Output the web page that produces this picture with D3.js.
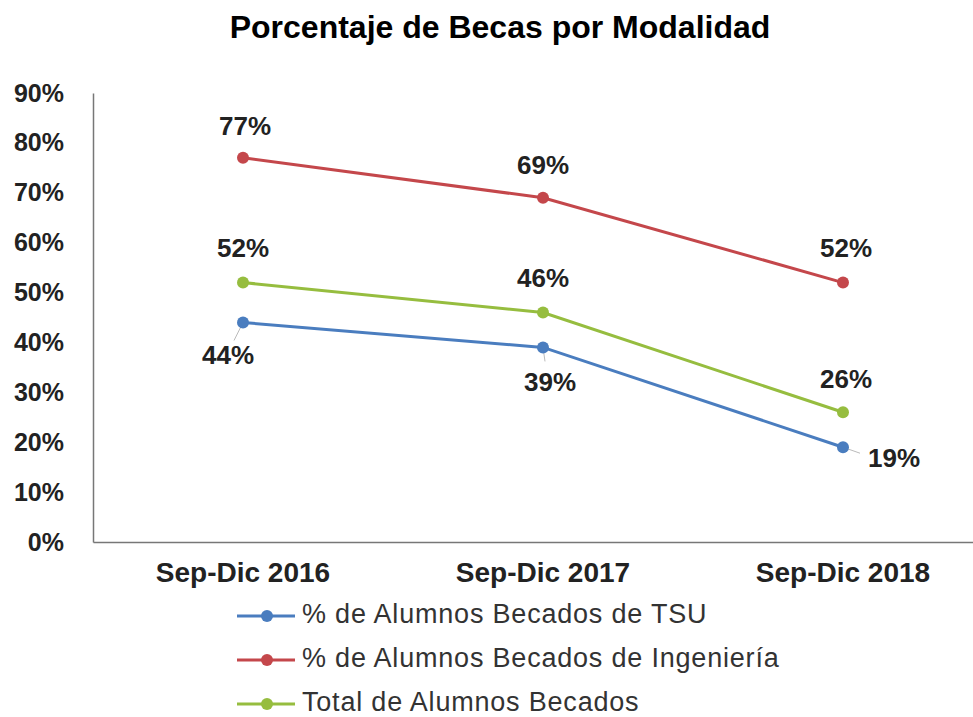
<!DOCTYPE html>
<html>
<head>
<meta charset="utf-8">
<script src="https://cdn.jsdelivr.net/npm/d3@7"></script>
<style>
  body { margin: 0; background: #fff; }
  svg { display: block; }
</style>
</head>
<body>
<div id="chart"></div>
<script>
// data
var categories = ['Sep-Dic 2016', 'Sep-Dic 2017', 'Sep-Dic 2018'];
var tsuValues = [44, 39, 19];
var ingValues = [77, 69, 52];
var totalValues = [52, 46, 26];
var seriesNames = ['% de Alumnos Becados de TSU', '% de Alumnos Becados de Ingeniería', 'Total de Alumnos Becados'];
var yTicks = [0, 10, 20, 30, 40, 50, 60, 70, 80, 90];

var width = 973, height = 717;
var colors = ['#4a7dbf', '#c4474b', '#96bd3f'];
var font = 'Liberation Sans, Arial, sans-serif';
// label offsets (dx, dy) per series, per point
var labelOffsets = [
    [[-15, 35], [7, 37], [51, 13]],
    [[2, -30], [0, -31], [3, -32]],
    [[0, -32], [0, -32], [3, -31]]
];
// leader line ends (dx, dy) for labels that sit away from the point
var leaders = [[0, 0, -9, 18], [0, 1, 2, 14], [0, 2, 17, 6]];

var svg = d3.select('#chart').append('svg')
    .attr('xmlns', 'http://www.w3.org/2000/svg')
    .attr('width', width)
    .attr('height', height);

svg.append('text')
    .attr('x', 500).attr('y', 38)
    .attr('text-anchor', 'middle')
    .style('font-family', font)
    .style('font-weight', 'bold')
    .style('font-size', '32px')
    .attr('fill', '#000')
    .text('Porcentaje de Becas por Modalidad');

var x = d3.scaleBand().domain(categories).range([93, 993]);
var y = d3.scaleLinear().domain([0, 90]).range([542, 93]);
function cx(i) { return x(categories[i]) + x.bandwidth() / 2; }

// axes
var yAxis = svg.append('g')
    .attr('transform', 'translate(93,0)')
    .call(d3.axisLeft(y).tickValues(yTicks).tickSize(0).tickPadding(29).tickFormat(function (d) { return d + '%'; }));
yAxis.select('.domain').attr('stroke', '#777').attr('stroke-width', 1.5);
yAxis.selectAll('text')
    .style('font-family', font)
    .style('font-weight', 'bold')
    .style('font-size', '25px')
    .attr('fill', '#222');

var xAxis = svg.append('g')
    .attr('transform', 'translate(0,542)')
    .call(d3.axisBottom(x).tickSize(0).tickPadding(20));
xAxis.select('.domain').attr('stroke', '#777').attr('stroke-width', 1.5);
xAxis.selectAll('text')
    .style('font-family', font)
    .style('font-weight', 'bold')
    .style('font-size', '28px')
    .attr('fill', '#222');

var series = [tsuValues, ingValues, totalValues];
var line = d3.line()
    .x(function (d, i) { return cx(i); })
    .y(function (d) { return y(d); });

leaders.forEach(function (p) {
    var px = cx(p[1]), py = y(series[p[0]][p[1]]);
    svg.append('line')
        .attr('x1', px).attr('y1', py)
        .attr('x2', px + p[2]).attr('y2', py + p[3])
        .attr('stroke', '#bbb').attr('stroke-width', 1);
});

series.forEach(function (vals, s) {
    var g = svg.append('g');
    g.append('path')
        .datum(vals)
        .attr('d', line)
        .attr('fill', 'none')
        .attr('stroke', colors[s])
        .attr('stroke-width', 3);
    g.selectAll('circle').data(vals).enter().append('circle')
        .attr('cx', function (d, i) { return cx(i); })
        .attr('cy', function (d) { return y(d); })
        .attr('r', 6)
        .attr('fill', colors[s]);
    g.selectAll('text').data(vals).enter().append('text')
        .attr('x', function (d, i) { return cx(i) + labelOffsets[s][i][0]; })
        .attr('y', function (d, i) { return y(d) + labelOffsets[s][i][1]; })
        .attr('text-anchor', 'middle')
        .attr('dominant-baseline', 'middle')
        .style('font-family', font)
        .style('font-weight', 'bold')
        .style('font-size', '26px')
        .attr('fill', '#222')
        .text(function (d) { return d + '%'; });
});

// legend
var legend = svg.append('g');
seriesNames.forEach(function (name, s) {
    var ly = 616 + s * 44;
    legend.append('line')
        .attr('x1', 237).attr('x2', 295)
        .attr('y1', ly).attr('y2', ly)
        .attr('stroke', colors[s]).attr('stroke-width', 3);
    legend.append('circle')
        .attr('cx', 267).attr('cy', ly).attr('r', 6)
        .attr('fill', colors[s]);
    legend.append('text')
        .attr('x', 302).attr('y', ly)
        .attr('dominant-baseline', 'middle')
        .style('font-family', font)
        .style('font-size', '27px')
        .style('letter-spacing', '0.8px')
        .attr('fill', '#333')
        .text(name);
});
</script>
</body>
</html>
